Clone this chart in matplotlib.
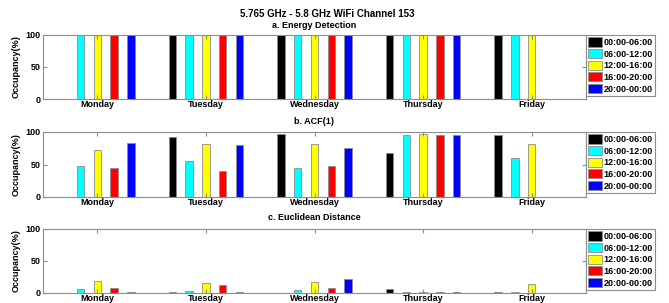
import matplotlib
matplotlib.use("Agg")
import matplotlib.pyplot as plt
import numpy as np

plt.rcParams['font.family'] = ['Liberation Sans', 'DejaVu Sans']
plt.rcParams['font.weight'] = 'bold'

days = ["Monday", "Tuesday", "Wednesday", "Thursday", "Friday"]
periods = ["00:00-06:00", "06:00-12:00", "12:00-16:00", "16:00-20:00", "20:00-00:00"]
colors = ["#000000", "#00ffff", "#ffff00", "#ff0000", "#0000ff"]

# rows: days, columns: periods
energy = [
    [0, 100, 100, 100, 100],
    [100, 100, 100, 100, 100],
    [100, 100, 100, 100, 100],
    [100, 100, 100, 100, 100],
    [100, 100, 100, 0, 0],
]
acf = [
    [0, 47.5, 73, 45, 83],
    [93, 56, 82, 40, 80],
    [96.5, 44, 82, 47, 75],
    [68, 96, 97, 96, 95],
    [95, 60, 81, 0, 0],
]
euclid = [
    [0, 6, 19, 8, 1],
    [1, 2.5, 16, 13, 2],
    [0, 4, 17, 8, 22],
    [6, 1, 1.5, 1, 1],
    [1, 1.5, 14, 0, 0],
]

title = "5.765 GHz - 5.8 GHz WiFi Channel 153"
subtitles = ["a. Energy Detection", "b. ACF(1)", "c. Euclidean Distance"]
datasets = [energy, acf, euclid]

fig = plt.figure(figsize=(6.69, 3.03), dpi=100)
W, H = 669, 303
left_px, right_px = 43, 586
panels_px = [(35, 99), (132, 197), (229, 293)]
sub_y_px = [25, 122, 218]

x = np.arange(1, len(days) + 1)
n = len(periods)
step = 0.155
bw = 0.068
grey = "#8c8c8c"

for i, (data, (t, b)) in enumerate(zip(datasets, panels_px)):
    ax = fig.add_axes([left_px / W, 1 - b / H, (right_px - left_px) / W, (b - t) / H])
    arr = np.array(data)
    handles = []
    for j in range(n):
        h = ax.bar(x + (j - 2) * step, arr[:, j], width=bw, color=colors[j],
                   edgecolor=grey, linewidth=0.6, label=periods[j])
        handles.append(h)
    ax.set_xlim(0.5, 5.5)
    ax.set_ylim(0, 100)
    ax.set_yticks([0, 50, 100])
    ax.set_xticks(x)
    ax.set_xticklabels(days, fontsize=6.5, fontweight='bold')
    ax.tick_params(axis='y', labelsize=6.5, direction='in', right=True, length=3, pad=2, color=grey)
    ax.tick_params(axis='x', direction='in', top=True, length=3, pad=1, color=grey)
    for s in ax.spines.values():
        s.set_color(grey)
        s.set_linewidth(0.8)
    ax.set_ylabel("Occupancy(%)", fontsize=6.5, fontweight='bold', labelpad=3)
    leg = ax.legend(handles=handles, loc='upper left', bbox_to_anchor=(1.0, 1.0),
                    borderaxespad=0, fontsize=6.5, fancybox=False, edgecolor=grey,
                    handlelength=1.5, handleheight=1.2, handletextpad=0.2,
                    labelspacing=0.22, borderpad=0.25, framealpha=1)
    leg.get_frame().set_linewidth(0.8)
    for txt in leg.get_texts():
        txt.set_fontweight('bold')
    fig.text(314 / W, 1 - sub_y_px[i] / H, subtitles[i], ha='center', va='center',
             fontsize=6.5, fontweight='bold')

fig.text(327 / W, 1 - 14 / H, title, ha='center', va='center', fontsize=7, fontweight='bold')

fig.savefig("out.png", dpi=100)
